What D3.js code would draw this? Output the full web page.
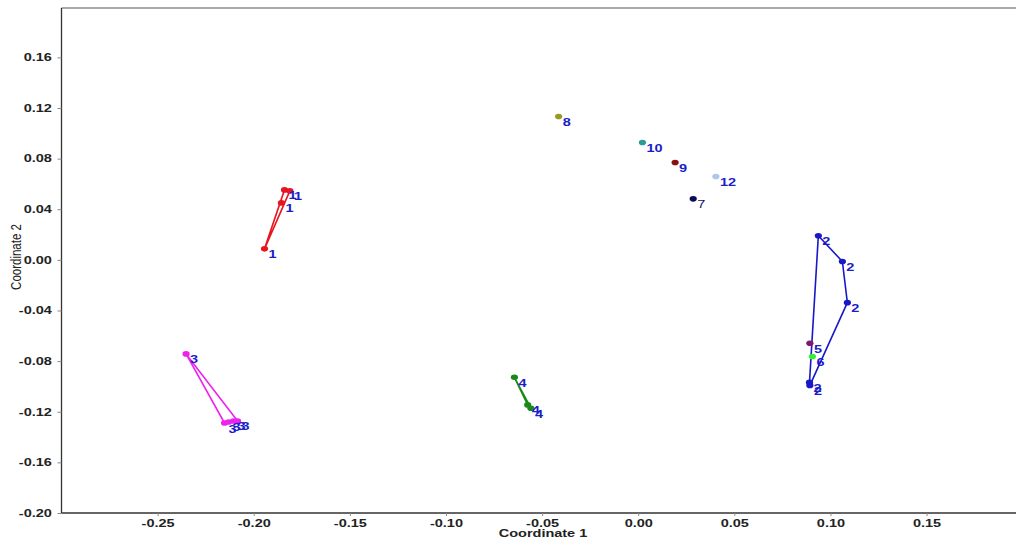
<!DOCTYPE html>
<html><head><meta charset="utf-8">
<script src="https://cdn.jsdelivr.net/npm/d3@7"></script>
<style>body{margin:0;background:#fff}svg{display:block;font-family:"Liberation Sans",Arial,sans-serif}</style>
</head><body><svg id="c" width="1016" height="539"></svg>
<script>
// Point data (MDS coordinates) and group labels
const pointGroup = [1,1,1,1, 2,2,2,2,2, 3,3,3,3,3, 4,4,4, 5, 6, 7, 8, 9, 10, 12];
const coord1 = [-0.1944,-0.1856,-0.1840,-0.1812,
  0.0937,0.1062,0.1088,0.0891,0.0893,
  -0.2352,-0.2152,-0.2131,-0.2105,-0.2084,
  -0.0644,-0.0575,-0.0558,
  0.0893, 0.0906, 0.0286, -0.0414, 0.0192, 0.0022, 0.0404];
const coord2 = [0.0087,0.0450,0.0553,0.0545,
  0.0190,-0.0013,-0.0338,-0.0968,-0.0992,
  -0.0743,-0.1289,-0.1281,-0.1273,-0.1273,
  -0.0928,-0.1146,-0.1172,
  -0.0659,-0.0764,0.0482,0.1133,0.0769,0.0927,0.0659];
const groupIds = [1,2,3,4,5,6,7,8,9,10,12];
const groupColors = ["#e8141e","#1818c8","#ee22ee","#188a18","#7a1a6a","#33ee33","#0a0a5a","#9a9a22","#8b1010","#2a9a9a","#aac8ee"];
const xTicks = [-0.25,-0.20,-0.15,-0.10,-0.05,0.00,0.05,0.10,0.15];
const yTicks = [-0.20,-0.16,-0.12,-0.08,-0.04,0.00,0.04,0.08,0.12,0.16];

const SX = 1.38; // horizontal stretch of the text in the reference
const svg = d3.select("#c");
const x = d3.scaleLinear().domain([-0.30, 0.196]).range([61.5, 1015]);
const y = d3.scaleLinear().domain([-0.20, 0.199]).range([513, 8]);
const color = d3.scaleOrdinal().domain(groupIds).range(groupColors);
const fmt = d => d.toFixed(2);

// top border
svg.append("line").attr("x1",61.5).attr("x2",1016).attr("y1",8).attr("y2",8).attr("stroke","#555").attr("stroke-width",1.2);

const xa = svg.append("g").attr("transform","translate(0,513)")
  .call(d3.axisBottom(x).tickValues(xTicks).tickSize(3).tickSizeOuter(0).tickFormat(fmt));
const ya = svg.append("g").attr("transform","translate(61.5,0)")
  .call(d3.axisLeft(y).tickValues(yTicks).tickSize(4).tickSizeOuter(0).tickFormat(fmt));
[xa,ya].forEach(a=>{
  a.select(".domain").attr("stroke","#333").attr("stroke-width",1.3);
  a.selectAll(".tick line").attr("stroke","#888");
  a.selectAll("text").attr("font-size",10.5).attr("font-weight","bold").attr("fill","#222")
    .attr("font-family","Liberation Sans, Arial, sans-serif").attr("transform",`scale(${SX},1)`);
});
xa.selectAll("text").attr("y",7).attr("dy","0.71em");
ya.selectAll("text").attr("x",-7);
ya.select(".domain").attr("d","M0,513V8");
xa.select(".domain").attr("d","M61.5,0H1016");

svg.append("text").attr("transform",`translate(543,537) scale(${SX},1)`).attr("text-anchor","middle")
  .attr("font-size",10.5).attr("font-weight","bold").attr("fill","#222").text("Coordinate 1");
svg.append("text").attr("transform",`translate(21,257) scale(1.25,1) rotate(-90)`).attr("text-anchor","middle")
  .attr("font-size",11.5).attr("fill","#222").text("Coordinate 2");

const pts = coord1.map((c,i)=>({g:pointGroup[i], x:c, y:coord2[i]}));

// convex hulls
groupIds.forEach(g=>{
  const gp = pts.filter(p=>p.g===g).map(p=>[x(p.x),y(p.y)]);
  if (gp.length>=3){
    const hull = d3.polygonHull(gp);
    svg.append("path").attr("d","M"+hull.join("L")+"Z")
      .attr("fill","none").attr("stroke",color(g)).attr("stroke-width",1.6).attr("stroke-linejoin","round");
  } else if (gp.length===2){
    svg.append("line").attr("x1",gp[0][0]).attr("y1",gp[0][1]).attr("x2",gp[1][0]).attr("y2",gp[1][1])
      .attr("stroke",color(g)).attr("stroke-width",1.6);
  }
});

svg.append("g").selectAll("ellipse").data(pts).join("ellipse")
  .attr("cx",d=>x(d.x)).attr("cy",d=>y(d.y)).attr("rx",3.6).attr("ry",2.8)
  .attr("fill",d=>color(d.g));

svg.append("g").selectAll("text").data(pts).join("text")
  .attr("transform",d=>`translate(${x(d.x)+4},${y(d.y)+9.5}) scale(${SX},1)`)
  .attr("font-size",10.5).attr("font-weight",d=>d.g===7?"normal":"bold").attr("fill",d=>d.g===7?"#10106a":"#1c1cc8")
  .text(d=>d.g);
</script></body></html>
